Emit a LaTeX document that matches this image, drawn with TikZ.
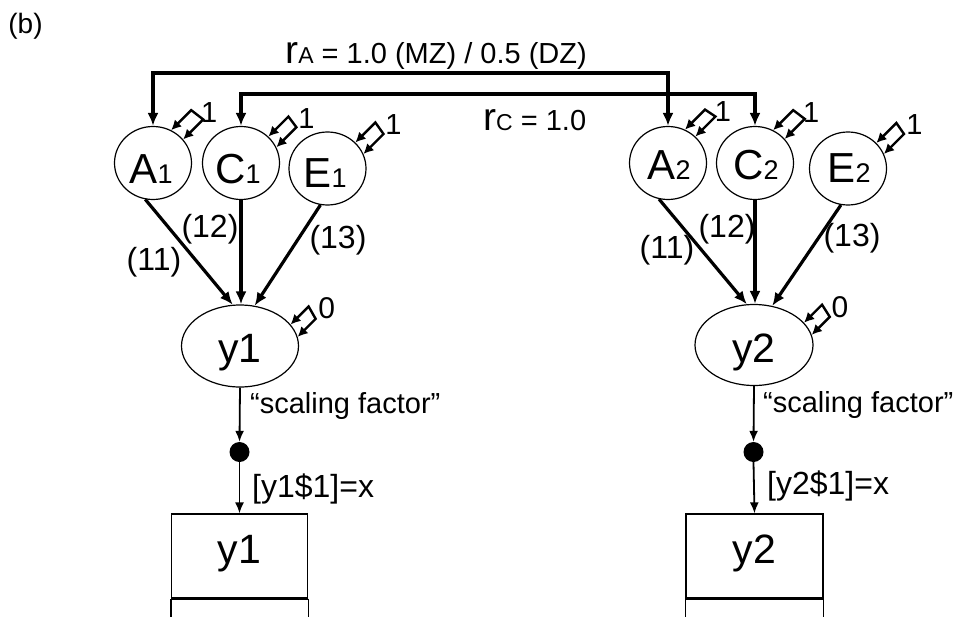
\documentclass[tikz,border=0pt]{standalone}
\usepackage{fontspec}
\setmainfont{Liberation Sans}
\usetikzlibrary{arrows.meta,shapes.geometric,calc}
\newcommand\fsz[1]{\fontsize{#1}{#1}\selectfont}
\newcommand\resid[6]{%
  \draw[loopline] (#1.#2) -- ([shift={(#4,-#4)}]#1.#2) -- ([shift={(#4,-#4)}]#1.#3) -- (#1.#3);
  \node[txt, font=\fsz{#6}] (#1v) at ([shift={(#4+18,-#4+2)}]#1.#2) {#5};
}
\begin{document}
\begin{tikzpicture}[x=1pt,y=-1pt,
  latent/.style={draw, ellipse, line width=1.2pt, inner sep=0pt, minimum width=77pt, minimum height=73pt},
  resp/.style={draw, ellipse, line width=1.2pt, inner sep=0pt, minimum width=117pt, minimum height=82pt},
  obsbox/.style={draw, rectangle, line width=1.2pt, inner sep=0pt, minimum width=136pt, minimum height=84pt},
  thresh/.style={circle, fill=black, inner sep=0pt, minimum size=20pt},
  txt/.style={inner sep=0pt, text=black},
  big/.style={txt, anchor=base, font=\fsz{42}},
  loadarr/.style={line width=3.2pt, -{Latex[length=13pt,width=11pt]}},
  corrarr/.style={line width=3.2pt, line join=miter, {Latex[length=13pt,width=11pt]}-{Latex[length=13pt,width=11pt]}},
  thinarr/.style={line width=1.8pt, -{Latex[length=11pt,width=9pt]}},
  loopline/.style={line width=2.4pt, line join=miter, {Latex[length=10pt,width=10pt]}-{Latex[length=10pt,width=10pt]}},
  elab/.style={txt, font=\fsz{32}},
  slab/.style={txt, anchor=base west, font=\fsz{29}},
  tlab/.style={txt, anchor=base west, font=\fsz{32}},
]
\useasboundingbox (0,0) rectangle (958,616);

\node[txt, anchor=base, font=\fsz{28}] (blabel) at (25.5,33) {(b)};

% latent circles
\node[latent] (A1) at (153,163) {};
\node[latent] (C1) at (241,163) {};
\node[latent] (E1) at (327.5,168.5) {};
\node[latent] (A2) at (668,163) {};
\node[latent] (C2) at (755,163) {};
\node[latent] (E2) at (848,168.5) {};
\node[big] (A1t) at (151,183) {A{\fsz{27}1}};
\node[big] (C1t) at (238,183) {C{\fsz{27}1}};
\node[big] (E1t) at (325,187) {E{\fsz{27}1}};
\node[big] (A2t) at (669,179) {A{\fsz{27}2}};
\node[big] (C2t) at (756,179) {C{\fsz{27}2}};
\node[big] (E2t) at (849,182) {E{\fsz{27}2}};

% responses
\node[resp] (y1) at (240,346) {};
\node[resp, minimum width=118pt, minimum height=81pt] (y2) at (754,345) {};
\node[big, font=\fsz{41}] (y1t) at (240,362) {y1};
\node[big, font=\fsz{41}] (y2t) at (754,362) {y2};

% thresholds and observed boxes
\node[thresh] (d1) at (239.5,452) {};
\node[thresh] (d2) at (753.5,452) {};
\node[obsbox] (b1) at (239.5,556) {};
\node[obsbox, minimum width=137pt] (b2) at (754.5,556) {};
\node[big, font=\fsz{41}] (b1t) at (239.5,563) {y1};
\node[big, font=\fsz{41}] (b2t) at (754.5,563) {y2};
\foreach \b in {b1,b2}{
  \draw[line width=3.5pt] (\b.south west) -- (\b.south east);
  \draw[line width=1.2pt] (\b.south west) -- ++(0,30);
  \draw[line width=1.2pt] (\b.south east) -- ++(0,30);
}

% correlations
\coordinate (ya) at (0,73);
\coordinate (yc) at (0,94);
\draw[corrarr] (A1.north) -- (A1.north |- ya) -- (A2.north |- ya) -- (A2.north);
\draw[corrarr] (C1.north) -- (C1.north |- yc) -- (C2.north |- yc) -- (C2.north);
\node[txt, anchor=base] (rA) at (436,63) {{\fsz{39}r}{\fsz{23}A}{\fsz{29} = 1.0 (MZ) / 0.5 (DZ)}};
\node[txt, anchor=base west] (rC) at (483,130) {{\fsz{39}r}{\fsz{23}C}{\fsz{29} = 1.0}};

% loadings
\draw[loadarr] (A1.258) -- (y1.100);
\draw[loadarr] (C1.south) -- (C1.south |- y1.north);
\draw[loadarr] (E1.259) -- (y1.70);
\draw[loadarr] (A2.256) -- (y2.100);
\draw[loadarr] (C2.south) -- (C2.south |- y2.north);
\draw[loadarr] (E2.259) -- (y2.65);
\node[elab] (l11a) at (154,262) {(11)};
\node[elab] (l12a) at (210,229) {(12)};
\node[elab] (l13a) at (338,240) {(13)};
\node[elab] (l11b) at (667,250) {(11)};
\node[elab] (l12b) at (727,229) {(12)};
\node[elab] (l13b) at (852,238) {(13)};

% residual variances
\resid{A1}{61}{38}{20}{1}{29}
\resid{C1}{44}{24}{20}{1}{29}
\resid{E1}{43}{22}{20}{1}{29}
\resid{A2}{63}{44}{20}{1}{29}
\resid{C2}{61}{39}{20}{1}{29}
\resid{E2}{42}{22}{20}{1}{29}
\resid{y1}{23}{9}{18}{0}{30}
\resid{y2}{24}{10}{18}{0}{30}

% scaling factor and thresholds
\draw[thinarr] (y1.south) -- (d1.north);
\draw[thinarr] (d1.south) -- (b1.north);
\draw[thinarr] (y2.south) -- (d2.north);
\draw[thinarr] (d2.south) -- (b2.north);
\node[slab] (sf1) at (250,413) {“scaling factor”};
\node[slab] (sf2) at (763,412) {“scaling factor”};
\node[tlab] (th1) at (252,497) {[y1\$1]=x};
\node[tlab] (th2) at (767,494) {[y2\$1]=x};
\end{tikzpicture}
\end{document}
